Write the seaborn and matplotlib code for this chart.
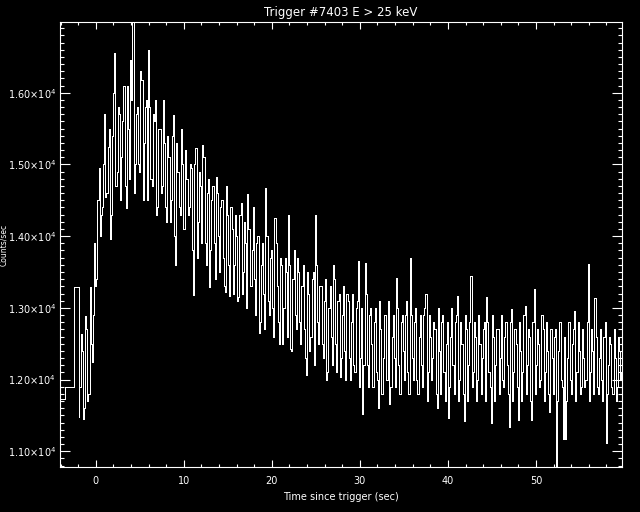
import numpy as np
import pandas as pd
import matplotlib
matplotlib.use('Agg')
import matplotlib.pyplot as plt
from matplotlib.ticker import MultipleLocator, FuncFormatter
import seaborn as sns

# pre-trigger 1.024 s bins
pre_time = [-4.03, -3.01, -1.99]
pre_rate = [11730, 11900, 13290]

# 0.128 s bins from -1.92 s, given as even and odd bins
t_start = -1.92
t_step = 0.128
rate_even = [
    11480, 12640, 11450, 12880, 11700, 13290, 12250, 13900, 13400, 14950,
    14300, 15000, 14550, 15250, 13960, 15400, 16550, 14900, 15700, 15100,
    16100, 14390, 15500, 16460, 16986, 15000, 15800, 14900, 16180, 15300,
    15900, 16600, 14800, 15700, 15900, 14400, 15500, 14700, 15300, 14200,
    15100, 14500, 15690, 13600, 14900, 14300, 15000, 14100, 14800, 14400,
    14950, 13180, 15230, 14200, 14700, 15270, 13900, 14600, 13290, 14500,
    13900, 14820, 14000, 14400, 13700, 13220, 14300, 13160, 14100, 13600,
    14000, 13150, 14460, 13500, 13900, 14590, 13300, 13800, 13400, 13900,
    12650, 13600, 13200, 14670, 13100, 13700, 13000, 14250, 13300, 12500,
    13600, 13000, 13500, 14300, 12420, 13400, 12900, 13700, 12800, 13300,
    12700, 12070, 13200, 12600, 13500, 14300, 12800, 13300, 12500, 13100,
    12000, 13000, 12600, 13600, 12500, 13100, 12030, 12900, 12400, 13200,
    12300, 12800, 12200, 13000, 13660, 12300, 11520, 13630, 12200, 12900,
    12500, 12800, 12100, 11610, 12700, 12300, 12900, 12000, 11660, 12600,
    12300, 13420, 12200, 12800, 12400, 12900, 12100, 13700, 12300, 12800,
    12000, 12600, 12200, 12900, 13200, 12100, 12600, 12300, 12700, 11610,
    12400, 12800, 12100, 12500, 11470, 12600, 12200, 12800, 13160, 12000,
    12500, 11420, 12700, 12200, 13440, 12100, 12600, 12000, 12500, 12300,
    12800, 13150, 12100, 11390, 12600, 12200, 12700, 12300, 12000, 12600,
    12200, 11340, 12990, 12100, 12500, 11430, 12400, 12100, 13020, 12200,
    12600, 11430, 13260, 12200, 12500, 12000, 12700, 12100, 12400, 11550,
    12300, 12600, 10785, 12400, 12000, 11170, 11170, 12300, 12000, 12500,
    12960, 12100, 12400, 11900, 12300, 12000, 13610, 12100, 12400, 13140,
    11900, 12300, 12000, 12600, 11110, 12200, 12500, 11800, 12300, 11900,
    12400, 12090,
]
rate_odd = [
    11900, 12400, 11600, 12700, 11800, 12500, 12900, 13300, 14500, 14000,
    14400, 15700, 14600, 15500, 14300, 16000, 14700, 15800, 14500, 15600,
    14700, 16100, 14800, 15900, 14600, 15700, 15000, 16300, 14500, 15800,
    14500, 15800, 14700, 15600, 14300, 15500, 14600, 15900, 14400, 15400,
    14200, 15400, 14000, 15300, 14400, 15500, 14100, 15200, 14300, 15000,
    13800, 15000, 13700, 14900, 13900, 15100, 13600, 14800, 13800, 14700,
    13400, 14600, 13500, 14500, 13300, 14700, 13600, 14400, 13200, 14300,
    13100, 14300, 13200, 14200, 13000, 14100, 13300, 14400, 12900, 14000,
    12800, 13900, 12700, 14000, 12900, 13800, 12600, 13900, 12800, 13700,
    12500, 13700, 12600, 13600, 12400, 13800, 12700, 13500, 12500, 13600,
    12300, 13500, 12400, 13400, 12200, 13600, 12500, 13300, 12300, 13400,
    12100, 13300, 12200, 13400, 12100, 13200, 12300, 13300, 12000, 13100,
    12000, 13200, 12100, 13100, 11900, 13000, 12200, 13200, 11900, 13000,
    11900, 13000, 12000, 13100, 11800, 12900, 12000, 13100, 11900, 12900,
    11900, 13000, 11800, 12900, 12000, 13100, 11800, 12900, 12000, 13000,
    11800, 12900, 11900, 13000, 11700, 12900, 12000, 12800, 11800, 13000,
    11800, 12900, 11700, 12800, 11900, 13000, 11800, 12900, 11700, 12800,
    11800, 12900, 11700, 12800, 11900, 12800, 11700, 12900, 11800, 12700,
    11700, 12800, 11900, 12900, 11700, 12700, 11800, 12900, 11900, 12800,
    11800, 12800, 11700, 12700, 11900, 12800, 11700, 12900, 11800, 12700,
    11700, 12800, 11800, 12700, 11900, 12900, 11700, 12800, 11800, 12700,
    11800, 12700, 11700, 12800, 11900, 12600, 11700, 12800, 11800, 12700,
    11700, 12800, 11800, 12700, 11900, 12800, 11700, 12700, 11800, 12600,
    11800, 12700, 11700, 12800, 11800, 12600, 11900, 12700, 11700, 12600,
    12000,
]
rate = np.empty(len(rate_even) + len(rate_odd))
rate[0::2] = rate_even
rate[1::2] = rate_odd
fine_time = np.round(t_start + t_step * np.arange(len(rate)), 3)

df = pd.DataFrame({'time': np.concatenate([pre_time, fine_time]),
                   'rate': np.concatenate([pre_rate, rate])})

sns.set_theme(style='ticks', rc={
    'figure.facecolor': 'black', 'axes.facecolor': 'black',
    'axes.edgecolor': 'white', 'axes.labelcolor': 'white',
    'xtick.color': 'white', 'ytick.color': 'white', 'text.color': 'white',
    'axes.linewidth': 0.8, 'mathtext.default': 'regular',
})
plt.rcParams['font.family'] = ['DejaVu Sans']

fig = plt.figure(figsize=(6.4, 5.12), dpi=100)
ax = fig.add_axes([0.0942, 0.0885, 0.8777, 0.8685])
sns.lineplot(data=df, x='time', y='rate', estimator=None, sort=False,
             drawstyle='steps-mid', color='white', linewidth=0.6,
             antialiased=False, ax=ax)

ax.set_xlim(df['time'].min(), df['time'].max())
ax.set_ylim(df['rate'].min(), df['rate'].max())
ax.xaxis.set_major_locator(MultipleLocator(10))
ax.xaxis.set_minor_locator(MultipleLocator(2))
ax.yaxis.set_major_locator(MultipleLocator(1000))
ax.yaxis.set_minor_locator(MultipleLocator(100))
ax.yaxis.set_major_formatter(FuncFormatter(lambda v, p: '%.2f\u00d710$^{4}$' % (v / 1e4)))
ax.tick_params(axis='x', which='major', direction='in', length=5, width=0.8,
               top=True, labelsize=7, pad=7)
ax.tick_params(axis='x', which='minor', direction='in', length=2.5, width=0.8, top=True)
ax.tick_params(axis='y', which='major', direction='in', length=7.5, width=0.8,
               right=True, labelsize=7, pad=3)
ax.tick_params(axis='y', which='minor', direction='in', length=3, width=0.8, right=True)
for s in ax.spines.values():
    s.set_visible(True)
    s.set_color('white')

ax.set_xlabel('Time since trigger (sec)', fontsize=7, labelpad=4)
ax.set_ylabel('')
ax.set_title('Trigger #7403 E > 25 keV', fontsize=8.5, pad=4)
fig.text(0.0055, 0.521, 'Counts/sec', rotation=90, ha='center', va='center', fontsize=5.5)

fig.savefig('out.png', dpi=100, facecolor='black')
